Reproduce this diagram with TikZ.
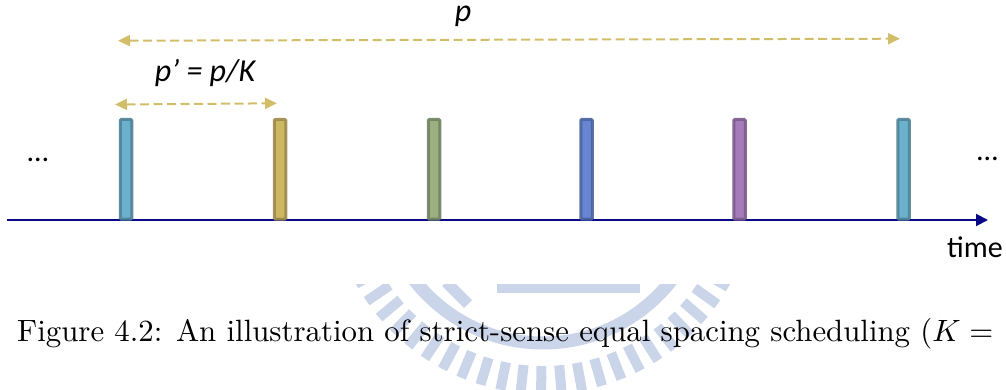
\documentclass[tikz,border=0pt]{standalone}
\usepackage{fontspec}
\newfontfamily\calib{Carlito}
\usetikzlibrary{arrows.meta}
\definecolor{axisblue}{RGB}{10,10,135}
\definecolor{tan}{RGB}{210,190,105}
\definecolor{wm}{RGB}{203,213,234}
\definecolor{cyanF}{RGB}{107,176,204}\definecolor{cyanB}{RGB}{79,130,150}
\definecolor{goldF}{RGB}{205,184,98}\definecolor{goldB}{RGB}{156,138,76}
\definecolor{greenF}{RGB}{155,175,128}\definecolor{greenB}{RGB}{113,130,97}
\definecolor{blueF}{RGB}{104,133,209}\definecolor{blueB}{RGB}{74,99,158}
\definecolor{purpF}{RGB}{165,123,185}\definecolor{purpB}{RGB}{124,90,140}
\begin{document}
\begin{tikzpicture}[x=1pt,y=-1pt,
  slot/.style={draw=#1B,fill=#1F,line width=3pt,rounded corners=1pt,minimum width=11.5pt,minimum height=99.5pt,inner sep=0pt,anchor=south,draw opacity=0.9},
  dimarrow/.style={tan,line width=2pt,dash pattern=on 9pt off 4.5pt,{Triangle[length=12pt,width=11pt]}-{Triangle[length=12pt,width=11pt]}},
  lbl/.style={font=\calib\fontsize{30}{34}\selectfont,inner sep=0pt},
  biglbl/.style={font=\calib\fontsize{32}{36}\selectfont\itshape,inner sep=0pt},
  wmstyle/.style={wm}]
\useasboundingbox (0,0) rectangle (1006,390);
% watermark
\begin{scope}
\clip (0,284) rectangle (1006,390);
\coordinate (wc) at (543,180);
\foreach \a in {2.5,8,...,180}{
  \draw[wmstyle,line width=10pt] ([shift={(\a:186)}]wc) -- ([shift={(\a:214)}]wc);
}
\draw[wmstyle,line width=13pt] (wc) circle[radius=163];
\fill[wmstyle] (497,284) rectangle (640,293);
\draw[wmstyle,line width=11pt] (446,282) -- (468,304);
\end{scope}
% axis
\coordinate (a0) at (7,220);
\coordinate (a1) at (988,220);
\draw[axisblue,line width=2pt,-{Triangle[length=12pt,width=12pt]}] (a0) -- (a1);
% slots
\node[slot=cyan]  (s1) at (126,220.5) {};
\node[slot=gold]  (s2) at (280,220.5) {};
\node[slot=green] (s3) at (434,220.5) {};
\node[slot=blue]  (s4) at (586.5,220.5) {};
\node[slot=purp]  (s5) at (739.5,220.5) {};
\node[slot=cyan]  (s6) at (903.5,220.5) {};
% dots
\node[lbl] (dl) at (38,160) {…};
\node[lbl] (dr) at (987.5,159) {…};
\node[lbl,anchor=base] (tm) at (975,257) {time};
% dimension arrows
\coordinate (p0) at (118,40.7);
\coordinate (p1) at (900,38.7);
\draw[dimarrow] (p0) -- (p1);
\node[biglbl,anchor=base] (pl) at (463,22) {p};
\coordinate (q0) at (115,104.5);
\coordinate (q1) at (277,103.3);
\draw[dimarrow] (q0) -- (q1);
\node[biglbl,anchor=base] (ql) at (205,82) {p’ = p/K};
% caption
\node[anchor=base west,inner sep=0pt,text=black] (cap) at (17,341.7) {\resizebox{976pt}{!}{Figure 4.2: An illustration of strict-sense equal spacing scheduling ($K=$}};
\end{tikzpicture}
\end{document}
